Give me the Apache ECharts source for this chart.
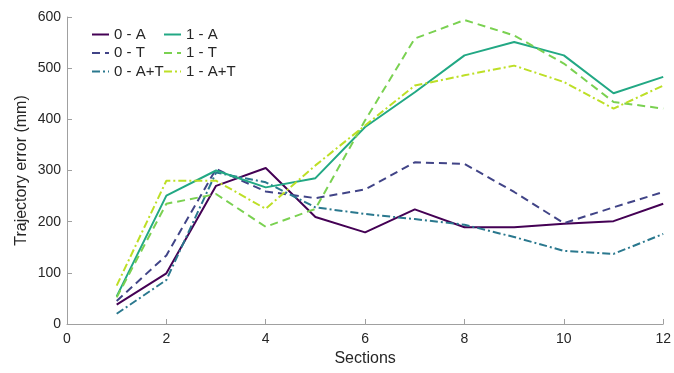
<!DOCTYPE html>
<html><head><meta charset="utf-8">
<script src="https://cdn.jsdelivr.net/npm/echarts@6/dist/echarts.min.js"></script>
<style>html,body{margin:0;padding:0;background:#fff}#c{width:674px;height:373px}</style>
</head><body><div id="c"></div>
<script>
const sections = [1,2,3,4,5,6,7,8,9,10,11,12];
const s0A  = [38, 99, 270, 305, 209, 179, 224, 189, 189, 196, 201, 235];
const s0T  = [45, 134, 303, 259, 246, 263, 316, 313, 258, 197, 228, 258];
const s0AT = [20, 86, 296, 277, 228, 215, 205, 194, 170, 143, 137, 176];
const s1A  = [54, 251, 300, 267, 285, 385, 453, 525, 551, 525, 451, 483];
const s1T  = [52, 235, 254, 190, 225, 398, 558, 594, 564, 509, 434, 421];
const s1AT = [75, 280, 280, 225, 310, 388, 466, 486, 505, 473, 421, 466];

const names = ['0 - A','0 - T','0 - A+T','1 - A','1 - T','1 - A+T'];
const vals = [s0A, s0T, s0AT, s1A, s1T, s1AT];
const colors = ['#440154','#414487','#2a788e','#22a884','#7ad151','#bddf26'];
const dashes = ['solid',[8,5],[8,3,2,3],'solid',[8,5],[8,3,2,3]];

const font = 'Liberation Sans, Arial, sans-serif';
const legendCommon = {orient:'vertical', top:27, itemWidth:17, itemHeight:12, itemGap:3.5, padding:0,
  itemStyle:{opacity:0},
  textStyle:{fontFamily:font,fontSize:15,color:'#262626'}};
const chart = echarts.init(document.getElementById('c'));
chart.setOption({
  animation:false,
  grid:{left:67,right:10,top:17,bottom:49},
  legend:[
    Object.assign({data:names.slice(0,3), left:91}, legendCommon),
    Object.assign({data:names.slice(3), left:163}, legendCommon)
  ],
  xAxis:{type:'value',min:0,max:12,interval:2,name:'Sections',nameLocation:'middle',nameGap:27,
    nameMoveOverlap:false,
    nameTextStyle:{fontFamily:font,fontSize:16,color:'#262626'},
    axisLine:{lineStyle:{color:'#a0a0a0'}},axisTick:{inside:true,length:5,lineStyle:{color:'#a0a0a0'}},
    axisLabel:{fontFamily:font,fontSize:14,color:'#262626',margin:8},splitLine:{show:false}},
  yAxis:{type:'value',min:0,max:600,interval:100,name:'Trajectory error (mm)',nameLocation:'middle',nameGap:37,
    nameMoveOverlap:false,
    nameTextStyle:{fontFamily:font,fontSize:16,color:'#262626'},
    axisLine:{show:true,lineStyle:{color:'#a0a0a0'}},axisTick:{show:true,inside:true,length:5,lineStyle:{color:'#a0a0a0'}},
    axisLabel:{fontFamily:font,fontSize:14,color:'#262626',margin:6},splitLine:{show:false}},
  series: names.map((n,i)=>({
    name:n,type:'line',symbol:'none',
    data: sections.map((x,j)=>[x, vals[i][j]]),
    itemStyle:{color:colors[i]},
    lineStyle:{color:colors[i],width:2,type:dashes[i]}
  }))
});
</script></body></html>
